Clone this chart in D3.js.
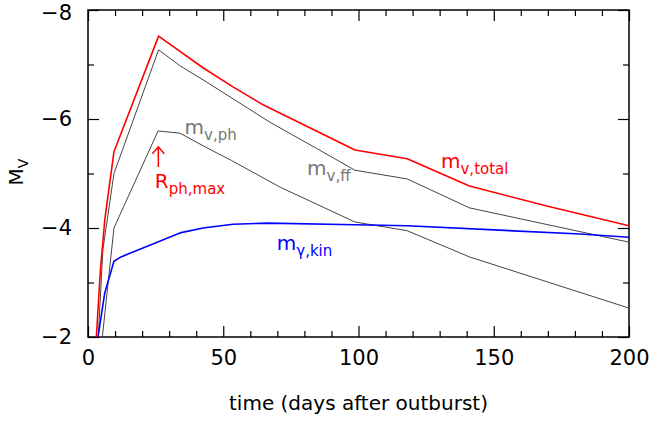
<!DOCTYPE html>
<html>
<head>
<meta charset="utf-8">
<script src="https://cdn.jsdelivr.net/npm/d3@7"></script>
<style>
  body { margin: 0; background: #fff; }
  svg { display: block; font-family: "DejaVu Sans", sans-serif; }
</style>
</head>
<body>
<svg id="chart"></svg>
<script>
// light curve components (days after outburst, V magnitude)
const totalDays = [3.1, 4.5, 6.2, 9.6, 26.1, 42.5, 53.6, 64.7, 98.7, 118, 141, 170, 200];
const totalMag  = [-2.0, -3.17, -4.15, -5.4, -7.52, -6.94, -6.59, -6.26, -5.43, -5.27, -4.77, -4.40, -4.04];

const ffDays = [3.8, 5.5, 9.6, 26.1, 33.9, 42.5, 67.3, 84.5, 98.7, 118, 141, 200];
const ffMag  = [-2.0, -3.6, -5.0, -7.27, -6.98, -6.72, -5.94, -5.46, -5.06, -4.90, -4.37, -3.74];

const phDays = [5.3, 9.6, 25.9, 34, 44, 53, 71, 98.7, 118, 141, 200];
const phMag  = [-2.0, -4.0, -5.78, -5.74, -5.47, -5.24, -4.75, -4.11, -3.95, -3.47, -2.53];

const kinDays = [3.7, 6.2, 9.6, 12.2, 34, 42.5, 53.6, 66.5, 98.7, 118, 182, 200];
const kinMag  = [-2.0, -2.81, -3.39, -3.47, -3.91, -4.0, -4.07, -4.09, -4.06, -4.04, -3.89, -3.83];

const xMajor = [0, 50, 100, 150, 200];
const yMajor = [-8, -6, -4, -2];

const width = 649, height = 424;
const margin = {top: 10, right: 20, bottom: 87, left: 88};

const svg = d3.select("#chart").attr("width", width).attr("height", height);

const x = d3.scaleLinear().domain([0, 200]).range([margin.left, width - margin.right]);
const y = d3.scaleLinear().domain([-8, -2]).range([margin.top, height - margin.bottom]);

const xMinor = d3.range(0, 201, 10).filter(d => d % 50 !== 0);
const yMinor = [-7, -5, -3];
const minus = d => String(d).replace("-", "\u2212");

// clip for curves
svg.append("clipPath").attr("id", "clip")
  .append("rect")
  .attr("x", x(0)).attr("y", y(-8))
  .attr("width", x(200) - x(0)).attr("height", y(-2) - y(-8));

// axes: major ticks with labels, minor ticks without, all inward
const yBot = y(-2), yTop = y(-8), xL = x(0), xR = x(200);

svg.append("g").attr("transform", `translate(0,${yBot})`)
  .call(d3.axisBottom(x).tickValues(xMajor).tickSize(-11).tickPadding(13).tickFormat(d3.format("d")));
svg.append("g").attr("transform", `translate(0,${yBot})`)
  .call(d3.axisBottom(x).tickValues(xMinor).tickSize(-6).tickFormat(""));
svg.append("g").attr("transform", `translate(0,${yTop})`)
  .call(d3.axisTop(x).tickValues(xMajor).tickSize(-11).tickFormat(""));
svg.append("g").attr("transform", `translate(0,${yTop})`)
  .call(d3.axisTop(x).tickValues(xMinor).tickSize(-6).tickFormat(""));

svg.append("g").attr("class", "yleft").attr("transform", `translate(${xL},0)`)
  .call(d3.axisLeft(y).tickValues(yMajor).tickSize(-11).tickPadding(16).tickFormat(minus));
svg.append("g").attr("transform", `translate(${xL},0)`)
  .call(d3.axisLeft(y).tickValues(yMinor).tickSize(-6).tickFormat(""));
svg.append("g").attr("transform", `translate(${xR},0)`)
  .call(d3.axisRight(y).tickValues(yMajor).tickSize(-11).tickFormat(""));
svg.append("g").attr("transform", `translate(${xR},0)`)
  .call(d3.axisRight(y).tickValues(yMinor).tickSize(-6).tickFormat(""));

svg.selectAll(".domain").remove();
svg.selectAll(".tick line").attr("stroke", "#000").attr("stroke-width", 1.2);
svg.selectAll(".tick text").attr("font-size", 21).attr("fill", "#000")
  .attr("font-family", "DejaVu Sans, sans-serif");
// keep the top label inside the page
svg.selectAll(".yleft .tick text").filter(d => d === -8).attr("dy", "0.45em");

svg.append("rect")
  .attr("x", xL).attr("y", yTop)
  .attr("width", xR - xL).attr("height", yBot - yTop)
  .attr("fill", "none").attr("stroke", "#000").attr("stroke-width", 1.5);

// curves
const line = d3.line().x(d => x(d[0])).y(d => y(d[1]));
const series = [
  {days: phDays, mag: phMag, color: "#444", w: 1},
  {days: ffDays, mag: ffMag, color: "#444", w: 1},
  {days: kinDays, mag: kinMag, color: "#0000ff", w: 1.6},
  {days: totalDays, mag: totalMag, color: "#ff0000", w: 1.6}
];
svg.append("g").attr("clip-path", "url(#clip)")
  .selectAll("path")
  .data(series)
  .join("path")
    .attr("d", s => line(d3.zip(s.days, s.mag)))
    .attr("fill", "none")
    .attr("stroke", s => s.color)
    .attr("stroke-width", s => s.w)
    .attr("stroke-linejoin", "round");

// labels with subscripts
function label(px, py, main, sub, color) {
  const t = svg.append("text").attr("x", px).attr("y", py).attr("fill", color);
  t.append("tspan").attr("font-size", 20).text(main);
  t.append("tspan").attr("font-size", 15).attr("dy", 6).text(sub);
}
label(x(35.7), y(-5.73), "m", "v,ph", "#777");
label(x(81.0), y(-4.97), "m", "v,ff", "#777");
label(x(130.5), y(-5.11), "m", "v,total", "#ff0000");
label(x(69.8), y(-3.6), "m", "\u03b3,kin", "#0000ff");
label(x(24.7), y(-4.73), "R", "ph,max", "#ff0000");

// arrow to R_ph,max
const ax = x(26), ay0 = y(-5.12), ay1 = y(-5.49);
svg.append("path")
  .attr("d", `M${ax},${ay0}V${ay1}M${ax - 6},${ay1 + 7}L${ax},${ay1}L${ax + 6},${ay1 + 7}`)
  .attr("fill", "none").attr("stroke", "#ff0000").attr("stroke-width", 1.5);

// axis titles
svg.append("text")
  .attr("x", (xL + xR) / 2).attr("y", 410)
  .attr("text-anchor", "middle").attr("font-size", 20)
  .text("time (days after outburst)");

const yl = svg.append("text")
  .attr("transform", `translate(23,172) rotate(-90)`)
  .attr("text-anchor", "middle");
yl.append("tspan").attr("font-size", 20).text("M");
yl.append("tspan").attr("font-size", 14).attr("dy", 5).text("V");
</script>
</body>
</html>
